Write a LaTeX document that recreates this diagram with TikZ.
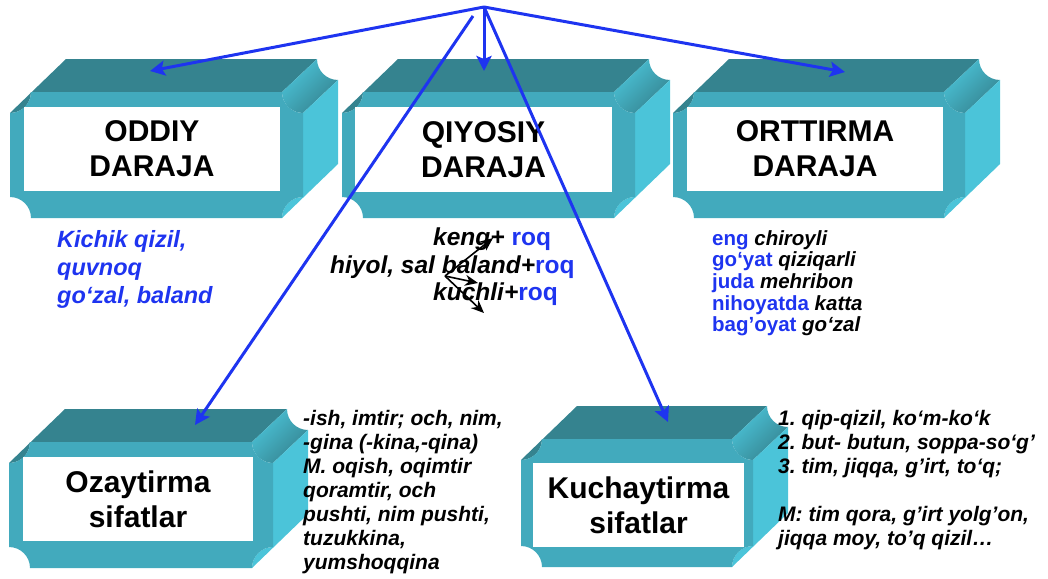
\documentclass[tikz,border=0pt]{standalone}
\usepackage{fontspec}
\setmainfont{Liberation Sans}
\usepackage{tikz}
\usetikzlibrary{arrows.meta}
\frenchspacing

\definecolor{boxtop}{RGB}{53,131,143}
\definecolor{boxfront}{RGB}{66,170,189}
\definecolor{boxside}{RGB}{75,196,217}
\definecolor{darblue}{RGB}{30,52,240}

\newcommand{\pqr}{21}
\newcommand{\pqdx}{35}
\newcommand{\pqdy}{33}
% 3D plaque: front face from (#1,#2) to (#3,#4), pixel units, y down
\newcommand{\plaquebox}[4]{%
  \fill[boxtop] (#1,#2+\pqr) -- (#1+\pqr+\pqdx,#2-\pqdy) -- (#3-\pqr+\pqdx,#2-\pqdy) -- (#3-\pqr,#2) -- (#1+\pqr,#2) arc[start angle=0,end angle=90,radius=\pqr] -- cycle;
  \shade[top color=boxside,bottom color=boxtop,shading angle=45] (#3-\pqr,#2) -- (#3-\pqr+\pqdx,#2-\pqdy) arc[start angle=180,end angle=90,radius=\pqr] -- (#3,#2+\pqr) arc[start angle=90,end angle=180,radius=\pqr] -- cycle;
  \fill[boxside] (#3,#2+\pqr) -- (#3+\pqdx,#2-\pqdy+\pqr) -- (#3+\pqdx,#4-\pqdy-\pqr) -- (#3-\pqr,#4) arc[start angle=180,end angle=270,radius=\pqr] -- cycle;
  \fill[boxfront] (#1,#2+\pqr) arc[start angle=90,end angle=0,radius=\pqr] -- (#3-\pqr,#2) arc[start angle=180,end angle=90,radius=\pqr] -- (#3,#4-\pqr) arc[start angle=270,end angle=180,radius=\pqr] -- (#1+\pqr,#4) arc[start angle=360,end angle=270,radius=\pqr] -- cycle;
}

\begin{document}
\begin{tikzpicture}[x=1pt,y=-1pt,
  facebox/.style={fill=white,inner sep=0pt,align=center,font=\fontsize{30}{35}\selectfont\bfseries},
  note/.style={inner sep=0pt,font=\fontsize{24.5}{28}\selectfont\bfseries\itshape},
  notelist/.style={inner sep=0pt,align=left,anchor=north west}]
\useasboundingbox (0,0) rectangle (1048,578);

\begin{scope}
	\plaquebox{10}{92}{303}{218}
	\plaquebox{342}{92}{635}{218}
	\plaquebox{673}{92}{965}{218}
	\plaquebox{9}{442}{273}{568}
	\plaquebox{521}{439}{753}{567}

	\node[facebox,minimum width=256,minimum height=84] (oddiy) at (152,149) {ODDIY\\DARAJA};
	\node[facebox,minimum width=257,minimum height=85] (qiyosiy) at (483.5,149.5) {QIYOSIY\\DARAJA};
	\node[facebox,minimum width=256,minimum height=84] (orttirma) at (815,149) {ORTTIRMA\\DARAJA};
	\node[facebox,minimum width=230,minimum height=84] (ozaytirma) at (138,499) {Ozaytirma\\sifatlar};
	\node[facebox,minimum width=211,minimum height=84] (kuchaytirma) at (638.5,505) {Kuchaytirma\\sifatlar};
\end{scope}

\begin{scope}
	\node[notelist,text=darblue,font=\fontsize{23.5}{28}\selectfont\bfseries\itshape] (oddiylist) at (57,230) {Kichik qizil,\\quvnoq\\go‘zal, baland};

	\node[note,anchor=base west] (keng) at (433,245) {keng+ \textcolor{darblue}{\upshape roq}};
	\node[note,anchor=base west] (hiyol) at (330,273) {hiyol, sal baland+\textcolor{darblue}{\upshape roq}};
	\node[note,anchor=base west] (kuchli) at (433,300) {kuchli+\textcolor{darblue}{\upshape roq}};

	\node[notelist,font=\fontsize{20.5}{21.7}\selectfont\bfseries\itshape] (orttirmalist) at (712,230) {\textcolor{darblue}{\upshape eng} chiroyli\\\textcolor{darblue}{\upshape go‘yat} qiziqarli\\\textcolor{darblue}{\upshape juda} mehribon\\\textcolor{darblue}{\upshape nihoyatda} katta\\\textcolor{darblue}{\upshape bag’oyat} go‘zal};

	\node[notelist,font=\fontsize{21}{24}\selectfont\bfseries\itshape] (ozlist) at (303,410) {-ish, imtir; och, nim,\\-gina (-kina,-qina)\\M. oqish, oqimtir\\qoramtir, och\\pushti, nim pushti,\\tuzukkina,\\yumshoqqina};
	\node[notelist,font=\fontsize{21}{24}\selectfont\bfseries\itshape] (kuchlist) at (778,410) {1. qip-qizil, ko‘m-ko‘k\\2. but- butun, soppa-so‘g’\\3. tim, jiqqa, g’irt, to‘q;\\[24pt]M: tim qora, g’irt yolg’on,\\jiqqa moy, to’q qizil…};
\end{scope}

\coordinate (top) at (484,7);
\coordinate (top2) at (473,16);
\coordinate (oddiytip) at (150,71);
\coordinate (qiyosiytip) at (484,71);
\coordinate (orttirmatip) at (845,72);
\coordinate (ozaytirmatip) at (195,425);
\coordinate (kuchaytirmatip) at (668,422);

\coordinate (fork) at (445,276);
\coordinate (fork1) at (493,238);
\coordinate (fork2) at (478,283);
\coordinate (fork3) at (484,313);

\begin{scope}[>={Stealth[length=13pt,width=11pt]}, every edge/.style={draw=black,line width=1.6pt}]
    \path [->] (fork) edge (fork1);
    \path [->] (fork) edge (fork2);
    \path [->] (fork) edge (fork3);
\end{scope}

\begin{scope}[>={Stealth[length=15pt,width=15pt,inset=3pt]}, every edge/.style={draw=darblue,line width=3pt}]
    \path [->] (top) edge (oddiytip);
    \path [->] (top) edge (qiyosiytip);
    \path [->] (top) edge (orttirmatip);
    \path [->] (top2) edge (ozaytirmatip);
    \path [->] (top) edge (kuchaytirmatip);
\end{scope}

\end{tikzpicture}
\end{document}
